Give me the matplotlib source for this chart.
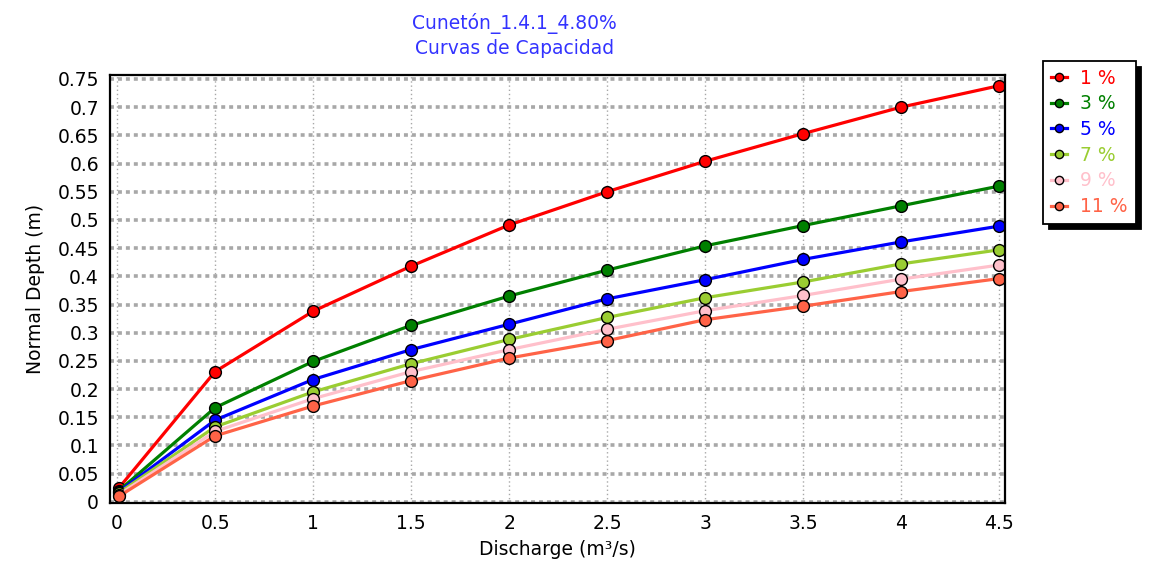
import matplotlib
matplotlib.use("Agg")
import matplotlib.pyplot as plt

plt.rcParams['font.family'] = ['DejaVu Sans']

# Discharge (m3/s) and normal depth (m) for each slope
discharge = [0.01, 0.5, 1, 1.5, 2, 2.5, 3, 3.5, 4, 4.5]
depth_1 = [0.025, 0.231, 0.338, 0.418, 0.491, 0.550, 0.604, 0.653, 0.700, 0.738]
depth_3 = [0.020, 0.167, 0.249, 0.313, 0.365, 0.411, 0.454, 0.490, 0.525, 0.560]
depth_5 = [0.018, 0.145, 0.217, 0.270, 0.315, 0.360, 0.394, 0.430, 0.461, 0.489]
depth_7 = [0.016, 0.133, 0.195, 0.245, 0.288, 0.327, 0.362, 0.390, 0.422, 0.447]
depth_9 = [0.013, 0.125, 0.183, 0.231, 0.270, 0.306, 0.339, 0.366, 0.395, 0.420]
depth_11 = [0.010, 0.117, 0.170, 0.215, 0.255, 0.286, 0.323, 0.347, 0.373, 0.396]

labels = ['1 %', '3 %', '5 %', '7 %', '9 %', '11 %']
colors = ['#ff0000', '#008000', '#0000ff', '#9acd32', '#ffc0cb', '#ff6347']
series = [depth_1, depth_3, depth_5, depth_7, depth_9, depth_11]

xticks = [0, 0.5, 1, 1.5, 2, 2.5, 3, 3.5, 4, 4.5]
xtick_labels = ['0', '0.5', '1', '1.5', '2', '2.5', '3', '3.5', '4', '4.5']
yticks = [i * 0.05 for i in range(16)]
ytick_labels = ['0', '0.05', '0.1', '0.15', '0.2', '0.25', '0.3', '0.35', '0.4',
                '0.45', '0.5', '0.55', '0.6', '0.65', '0.7', '0.75']

fs = 13.5

fig = plt.figure(figsize=(11.51, 5.65), dpi=100)
ax = fig.add_axes([110 / 1151, 1 - 503 / 565, 895 / 1151, 428 / 565])

for ys, lab, col in zip(series, labels, colors):
    ax.plot(discharge, ys, color=col, lw=2.3, marker='o', ms=8.5,
            mfc=col, mec='black', mew=1.0, label=lab)

ax.set_xlim(-0.036, 4.53)
ax.set_ylim(-0.002, 0.757)
ax.set_xticks(xticks)
ax.set_xticklabels(xtick_labels)
ax.set_yticks(yticks)
ax.set_yticklabels(ytick_labels)
ax.tick_params(axis='both', length=0, labelsize=fs, colors='black')
ax.tick_params(axis='y', pad=8)
ax.tick_params(axis='x', pad=8)

ax.xaxis.grid(True, color='#a8a8a8', lw=1.0, ls=(0, (1, 2)))
ax.yaxis.grid(True, color='#a8a8a8', lw=2.6, ls=(0, (1.1, 1.1)))
ax.set_axisbelow(True)
for sp in ax.spines.values():
    sp.set_color('black')
    sp.set_linewidth(1.6)

ax.set_xlabel('Discharge (m³/s)', fontsize=fs, labelpad=5)
ax.set_ylabel('Normal Depth (m)', fontsize=fs, labelpad=9)

fig.text(0.447, 1 - 23 / 565, 'Cunetón_1.4.1_4.80%', color='#3333ff',
         fontsize=fs, ha='center', va='center')
fig.text(0.447, 1 - 48 / 565, 'Curvas de Capacidad', color='#3333ff',
         fontsize=fs, ha='center', va='center')

leg = ax.legend(loc='upper left', bbox_to_anchor=(1043 / 1151, 1 - 61 / 565),
                bbox_transform=fig.transFigure, borderaxespad=0, fontsize=fs,
                frameon=True, fancybox=False, edgecolor='black',
                handlelength=0.9, handletextpad=0.7, labelspacing=0.36,
                borderpad=0.4, markerscale=0.7, labelcolor='linecolor',
                shadow={'ox': 4, 'oy': -4, 'color': 'black', 'alpha': 1})
leg.get_frame().set_linewidth(1.3)

fig.savefig('out.png', dpi=100)
